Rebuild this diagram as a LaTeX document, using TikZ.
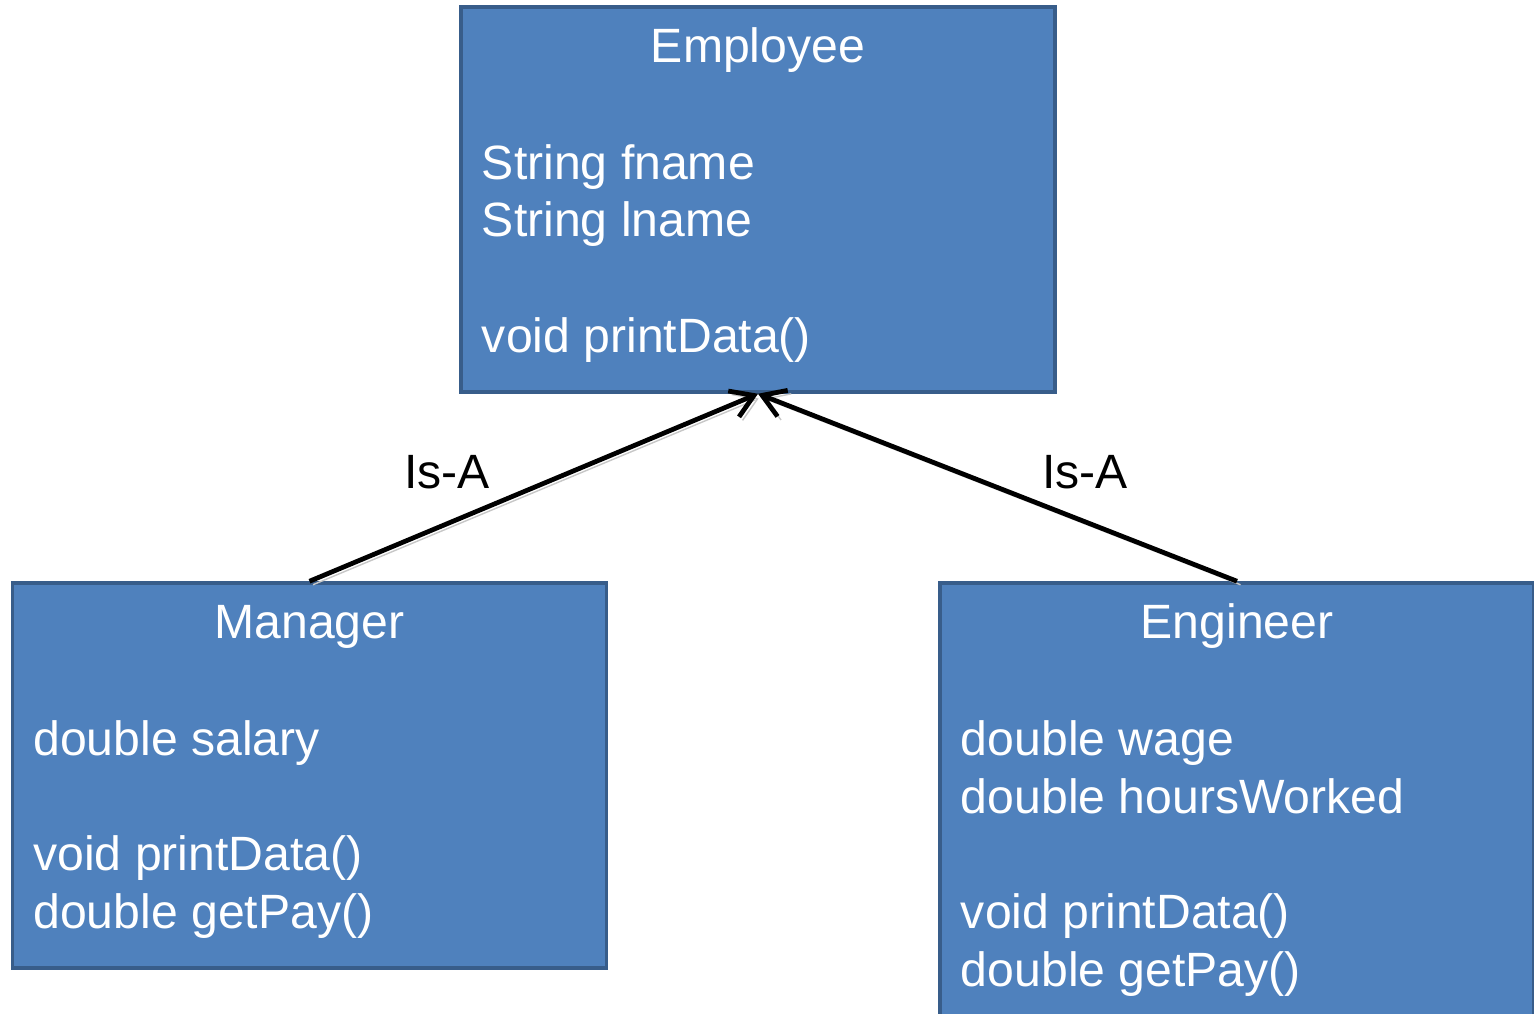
\documentclass[tikz,border=0pt]{standalone}
\usepackage{fontspec}
\setmainfont{Liberation Sans}
\usetikzlibrary{arrows.meta,positioning}
\definecolor{boxfill}{RGB}{79,129,189}
\definecolor{boxline}{RGB}{56,93,138}

\begin{document}
\begin{tikzpicture}[
    font=\fontsize{13.7pt}{16.4pt}\selectfont,
    cls/.style={rectangle, draw=boxline, fill=boxfill, line width=1pt, minimum width=5.94cm, minimum height=3.85cm, inner sep=0pt},
    clsname/.style={anchor=base, text=white, inner sep=0pt},
    members/.style={anchor=base west, align=left, text=white, inner sep=0pt},
    arr/.style={-{Straight Barb[length=2.2mm,width=2.8mm]}, line width=1.35pt,
                preaction={draw=black!22, transform canvas={shift={(1pt,-1pt)}}}}
]
  \useasboundingbox (0,0) rectangle (15.34,-10.13);

  % class boxes
  \node[cls] (emp) at (7.58, -1.995) {};
  \node[cls] (mgr) at (3.095, -7.755) {};
  \node[cls, minimum height=4.6cm] (eng) at (12.37, -8.13) {};

  % class names
  \node[clsname] (empname) at ([yshift=-5.7mm]emp.north) {Employee};
  \node[clsname] (mgrname) at ([yshift=-5.7mm]mgr.north) {Manager};
  \node[clsname] (engname) at ([yshift=-5.7mm]eng.north) {Engineer};

  % fields and methods (base = last line)
  \node[members] (empmem) at ([xshift=2.2mm, yshift=-34.7mm]emp.north west)
    {String fname\\ String lname\\ \\ void printData()};
  \node[members] (mgrmem) at ([xshift=2.2mm, yshift=-34.7mm]mgr.north west)
    {double salary\\ \\ void printData()\\ double getPay()};
  \node[members] (engmem) at ([xshift=2.2mm, yshift=-40.5mm]eng.north west)
    {double wage\\ double hoursWorked\\ \\ void printData()\\ double getPay()};

  % inheritance
  \draw[arr] (mgr.north) -- (emp.south);
  \draw[arr] (eng.north) -- (emp.south);
  \node[anchor=base] (isa1) at (4.47, -4.88) {Is-A};
  \node[anchor=base] (isa2) at (10.85, -4.88) {Is-A};
\end{tikzpicture}
\end{document}
